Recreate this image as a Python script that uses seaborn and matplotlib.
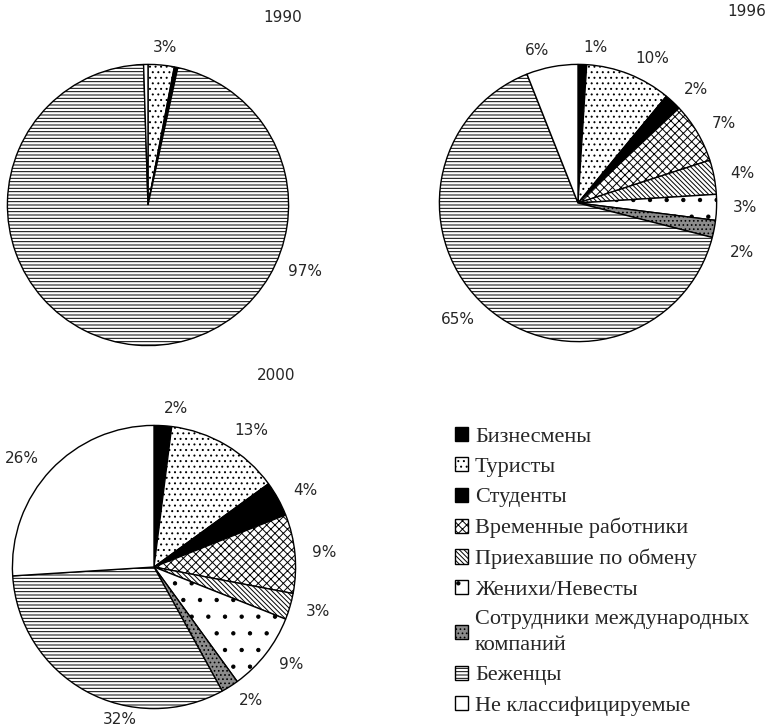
import matplotlib
matplotlib.use("Agg")
import matplotlib.pyplot as plt
import seaborn as sns

# categories (legend order = clockwise order from 12 o'clock)
categories = ["Бизнесмены", "Туристы", "Студенты", "Временные работники",
              "Приехавшие по обмену", "Женихи/Невесты",
              "Сотрудники международных\nкомпаний", "Беженцы", "Не классифицируемые"]

# shares per year (%)
share_1990 = [0, 3, 0.4, 0, 0, 0, 0, 96.1, 0.5]
share_1996 = [1, 10, 2, 7, 4, 3, 2, 65, 6]
share_2000 = [2, 13, 4, 9, 3, 9, 2, 32, 26]

labels_1990 = ["", "3%", "", "", "", "", "", "97%", ""]
labels_1996 = ["1%", "10%", "2%", "7%", "4%", "3%", "2%", "65%", "6%"]
labels_2000 = ["2%", "13%", "4%", "9%", "3%", "9%", "2%", "32%", "26%"]

# fill / hatch per category (black & white print look)
fills = ["black", "white", "black", "white", "white", "white", "#8c8c8c", "white", "white"]
hatches = [None, "...", None, "xxxx", "\\\\\\\\\\\\\\", ".", "....", "-----", None]

sns.set_style("white")
plt.rcParams["hatch.linewidth"] = 0.7
plt.rcParams["hatch.color"] = "black"

W, H = 769, 726
fig = plt.figure(figsize=(W / 100, H / 100), dpi=100)


def pie_axes(cx, cy, r):
    return fig.add_axes([(cx - r) / W, 1 - (cy + r) / H, 2 * r / W, 2 * r / H])


def draw_pie(ax, values, labels, moved=None):
    wedges, texts = ax.pie(values, labels=labels, colors=fills, startangle=90,
                           counterclock=False, labeldistance=1.12,
                           wedgeprops=dict(edgecolor="black", linewidth=1.0),
                           textprops=dict(fontsize=11, family="DejaVu Sans"))
    for w, h in zip(wedges, hatches):
        if h:
            w.set_hatch(h)
    # a few labels sit away from their slice's mid-angle in the original
    for i, (x, y) in (moved or {}).items():
        texts[i].set_position((x, y))
        texts[i].set_ha("center")
        texts[i].set_va("center")
    ax.set_xlim(-1.01, 1.01)
    ax.set_ylim(-1.01, 1.01)
    ax.set_aspect("equal")
    ax.axis("off")
    return wedges


ax1 = pie_axes(148, 205, 142)
draw_pie(ax1, share_1990, labels_1990, moved={1: (0.12, 1.12), 7: (1.12, -0.47)})
ax2 = pie_axes(578, 203, 140)
w96 = draw_pie(ax2, share_1996, labels_1996, moved={6: (1.18, -0.36)})
ax3 = pie_axes(154, 567, 143)
draw_pie(ax3, share_2000, labels_2000, moved={7: (-0.24, -1.08)})

fig.text(302 / W, 1 - 18 / H, "1990", fontsize=11, va="center", ha="right")
fig.text(766 / W, 1 - 12 / H, "1996", fontsize=11, va="center", ha="right")
fig.text(295 / W, 1 - 376 / H, "2000", fontsize=11, va="center", ha="right")

leg = fig.legend(w96, categories, loc="upper left", bbox_to_anchor=(446 / W, 1 - 418 / H),
                 frameon=False, handlelength=0.6, handleheight=0.6, handletextpad=0.3,
                 labelspacing=0.47, borderaxespad=0,
                 prop=dict(family="Liberation Serif", size=16))
for t in leg.get_texts():
    t.set_linespacing(1.5)

fig.savefig("out.png", dpi=100)
